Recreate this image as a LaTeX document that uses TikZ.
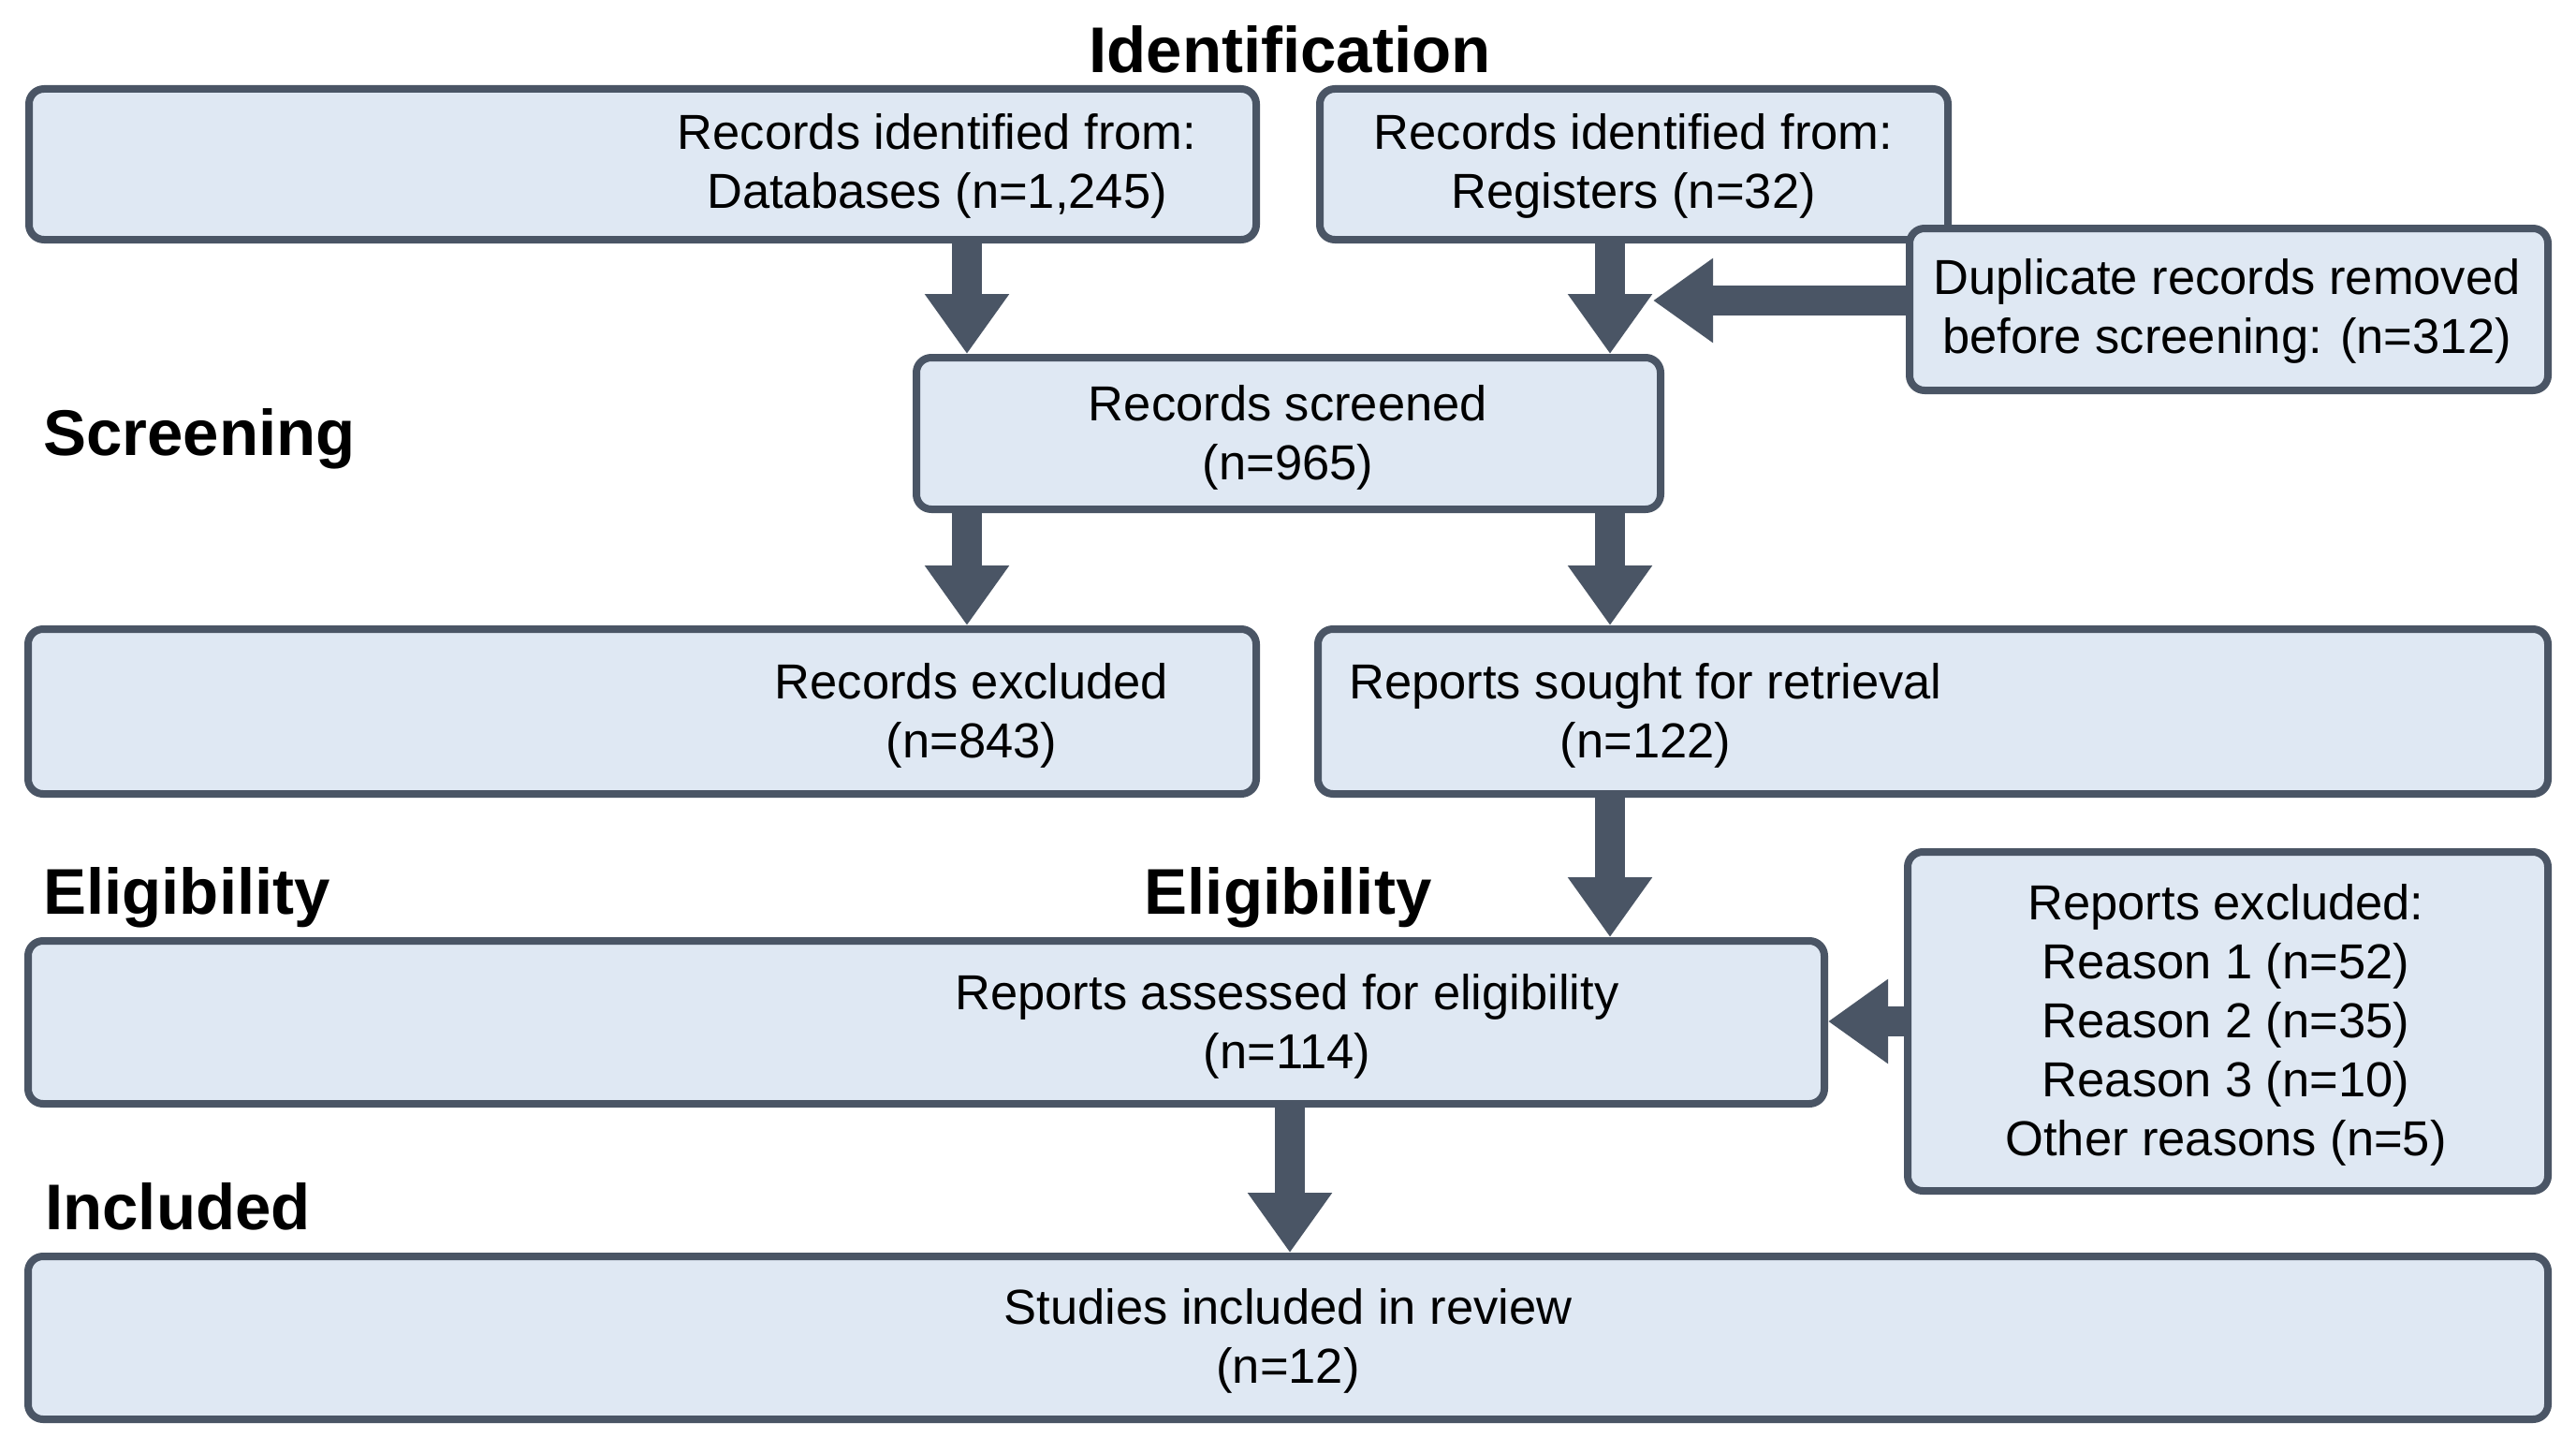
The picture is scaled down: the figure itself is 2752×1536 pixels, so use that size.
\documentclass[tikz,border=0pt]{standalone}
\usepackage{fontspec}
\setmainfont{Liberation Sans}
\usetikzlibrary{arrows.meta}
\definecolor{edgecol}{RGB}{74,85,101}
\definecolor{boxfill}{RGB}{223,232,243}
\tikzset{
  box/.style={draw=edgecol, fill=boxfill, line width=8pt, rounded corners=16pt, inner sep=0pt, rectangle},
  txt/.style={align=center, font=\fontsize{52.5}{63}\selectfont, inner sep=0pt, text=black},
  head/.style={font=\fontsize{69}{80}\selectfont\bfseries, inner sep=0pt, text=black},
  arr/.style={draw=edgecol, line width=32pt, -{Triangle[length=64pt,width=86pt]}},
}
\begin{document}
\begin{tikzpicture}[x=1pt,y=-1pt]
\fill[white] (0,0) rectangle (2752,1536);
\useasboundingbox (0,0) rectangle (2752,1536);

% headings
\node[head, anchor=base] (hid) at (1378,78) {Identification};
\node[head, anchor=base west] (hscr) at (46,486) {Screening};
\node[head, anchor=base west] (hel1) at (46,976) {Eligibility};
\node[head, anchor=base] (hel2) at (1376,976) {Eligibility};
\node[head, anchor=base west] (hinc) at (48,1313) {Included};

% boxes
\node[box, minimum width=1311pt, minimum height=161pt] (db)  at (686.5,175.5) {};
\node[box, minimum width=671pt,  minimum height=161pt] (reg) at (1745.5,175.5) {};
\node[box, minimum width=682pt,  minimum height=173pt] (dup) at (2381,330.5) {};
\node[box, minimum width=795pt,  minimum height=162pt] (scr) at (1376.5,463) {};
\node[box, minimum width=1312pt, minimum height=176pt] (exc) at (686,760) {};
\node[box, minimum width=1314pt, minimum height=176pt] (sou) at (2065,760) {};
\node[box, minimum width=1919pt, minimum height=174pt] (ass) at (989.5,1092) {};
\node[box, minimum width=684pt,  minimum height=362pt] (rex) at (2380,1091) {};
\node[box, minimum width=2692pt, minimum height=174pt] (stu) at (1376,1429) {};

% texts
\node[txt] (tdb)  at (1001,177) {Records identified from:\\Databases (n=1,245)};
\node[txt] (treg) at (1745,177) {Records identified from:\\Registers (n=32)};
\node[txt] (tdup) at (2379,332) {Duplicate records removed\\before screening: (n=312)};
\node[txt] (tscr) at (1376,467) {Records screened\\(n=965)};
\node[txt] (texc) at (1038,764) {Records excluded\\(n=843)};
\node[txt] (tsou) at (1758,764) {Reports sought for retrieval\\(n=122)};
\node[txt] (tass) at (1375,1096) {Reports assessed for eligibility\\(n=114)};
\node[txt] (trex) at (2378,1095) {Reports excluded:\\Reason 1 (n=52)\\Reason 2 (n=35)\\Reason 3 (n=10)\\Other reasons (n=5)};
\node[txt] (tstu) at (1376,1432) {Studies included in review\\(n=12)};

% connector helpers
\coordinate (xa) at (1033,0);
\coordinate (xb) at (1720,0);
\coordinate (xc) at (1378,0);
\coordinate (dupend) at (1766,321);

% arrows
\draw[arr] (db.south -| xa) -- (scr.north -| xa);
\draw[arr] (reg.south -| xb) -- (scr.north -| xb);
\draw[arr] (dup.west |- dupend) -- (dupend);
\draw[arr] (scr.south -| xa) -- (exc.north -| xa);
\draw[arr] (scr.south -| xb) -- (sou.north -| xb);
\draw[arr] (sou.south -| xb) -- (ass.north -| xb);
\draw[arr] (rex.west) -- (ass.east |- rex.west);
\draw[arr] (ass.south -| xc) -- (stu.north -| xc);
\end{tikzpicture}
\end{document}
